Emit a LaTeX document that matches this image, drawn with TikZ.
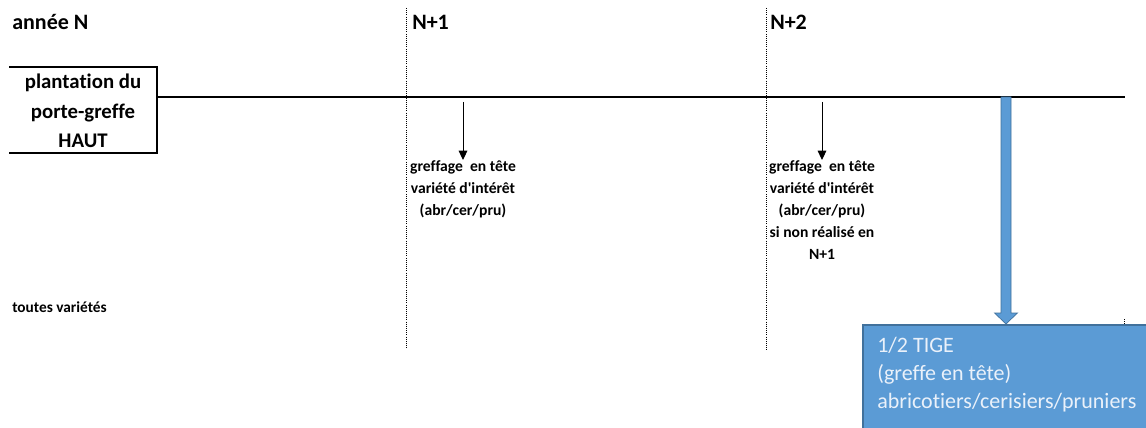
\documentclass[tikz,border=0pt]{standalone}
\usepackage{fontspec}
\setmainfont{Carlito}[Ligatures={NoCommon}]
\usetikzlibrary{calc,arrows.meta}
\definecolor{tigefill}{HTML}{5B9BD5}
\definecolor{tigeedge}{HTML}{41719C}
\definecolor{tigetext}{HTML}{EAF1FA}
\tikzset{
	yearlabel/.style={anchor=base west, inner sep=0, font=\bfseries\fontsize{16.5}{18}\selectfont},
	greffetext/.style={anchor=north, inner sep=0, align=center, font=\bfseries\fontsize{11.7}{16.5}\selectfont},
	yearsep/.style={densely dotted, line width=0.6pt},
	greffearrow/.style={line width=0.75pt, -{Triangle[length=7pt, width=6.5pt]}}
}

\begin{document}
\begin{tikzpicture}[x=0.75pt, y=-0.75pt]
			%%%%% START %%%%%
			\useasboundingbox (0, 0) rectangle (1146, 428);
			
			\node[yearlabel] (anneeN) at (12, 30) {année N};
			\node[yearlabel] (anneeN1) at (412, 30) {N+1};
			\node[yearlabel] (anneeN2) at (770, 30) {N+2};
			
			\draw[yearsep] (406, 8) -- (406, 348);
			\draw[yearsep] (766, 8) -- (766, 350);
			\draw[yearsep] (1124, 319) -- (1124, 325);
			
			\draw[line width=1.5pt] (9, 67) -- (157, 67) -- (157, 153) -- (9, 153);
			\node[align=center, inner sep=0, font=\bfseries\fontsize{15.6}{22}\selectfont] (plantation) at (83, 111) {plantation du\\porte-greffe\\HAUT};
			\draw[line width=1.7pt] (157, 97) -- (1125, 97);
			
			\coordinate (graft1) at (463, 102);
			\coordinate (graft2) at (822, 102);
			\node[greffetext] (greffe1) at (463, 160) {greffage\ \ en tête\\variété d\textquotesingle intérêt\\(abr/cer/pru)};
			\node[greffetext] (greffe2) at (822, 160) {greffage\ \ en tête\\variété d\textquotesingle intérêt\\(abr/cer/pru)\\si non réalisé en\\N+1};
			\draw[greffearrow] (graft1) -- (greffe1.north);
			\draw[greffearrow] (graft2) -- (greffe2.north);
			
			\node[anchor=base west, inner sep=0, font=\bfseries\fontsize{11.5}{13}\selectfont] (toutes) at (12, 312) {toutes variétés};
			
			\node[anchor=north west, draw=tigeedge, line width=1.2pt, fill=tigefill, minimum width=300pt, minimum height=86pt] (tige) at (862, 324) {};
			\node[anchor=north west, inner sep=0, text=tigetext, align=left, font=\fontsize{16.5}{21}\selectfont] (tigelabel) at (877, 337)
				{1/2 TIGE\\(greffe en tête)\\abricotiers/cerisiers/pruniers};
			
			\coordinate (tigestart) at (1006, 97);
			\draw[draw=tigeedge, fill=tigefill, line width=0.5pt]
				($(tigestart)+(-5, 0)$) -- ($(tige.north -| tigestart)+(-5, -11)$) -- ($(tige.north -| tigestart)+(-11.5, -11)$)
				-- (tige.north -| tigestart) -- ($(tige.north -| tigestart)+(11.5, -11)$) -- ($(tige.north -| tigestart)+(5, -11)$)
				-- ($(tigestart)+(5, 0)$) -- cycle;
			
			%%%%% END %%%%%
\end{tikzpicture}
\end{document}
